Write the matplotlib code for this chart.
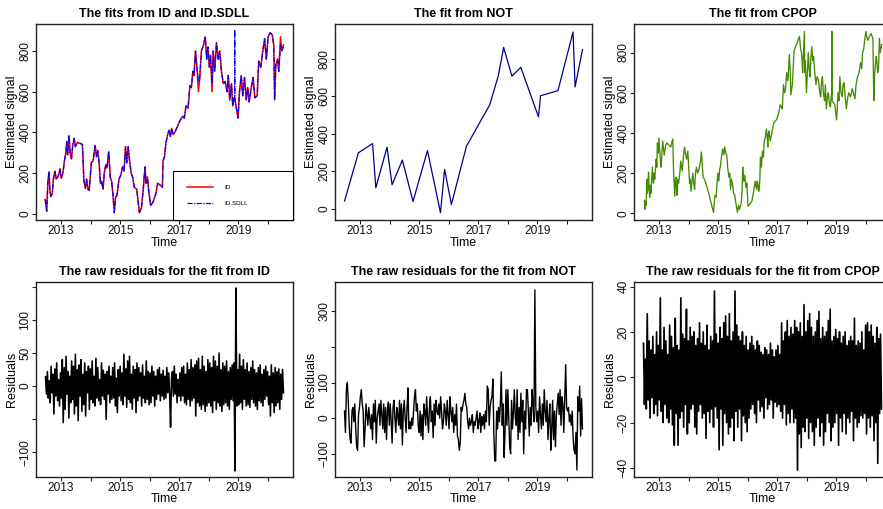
import numpy as np
import matplotlib
matplotlib.use("Agg")
import matplotlib.pyplot as plt

plt.rcParams['font.family'] = ['Liberation Sans', 'DejaVu Sans']

# ---------------- data ----------------
t_start, t_end = 2012.47, 2020.53
year_ticks = [2013, 2014, 2015, 2016, 2017, 2018, 2019, 2020]
year_labels = ['2013', '', '2015', '', '2017', '', '2019', '']

id_t = [2012.46, 2012.51, 2012.55, 2012.59, 2012.62, 2012.65, 2012.70, 2012.74, 2012.79, 2012.83,
        2012.90, 2012.96, 2013.00, 2013.06, 2013.11, 2013.16, 2013.19, 2013.22, 2013.27, 2013.30,
        2013.35, 2013.39, 2013.44, 2013.48, 2013.55, 2013.66, 2013.72, 2013.77, 2013.82, 2013.86,
        2013.91, 2013.95, 2014.02, 2014.08, 2014.15, 2014.20, 2014.24, 2014.28, 2014.33, 2014.37,
        2014.42, 2014.46, 2014.51, 2014.55, 2014.61, 2014.66, 2014.71, 2014.75, 2014.80, 2014.84,
        2014.89, 2014.96, 2015.02, 2015.08, 2015.13, 2015.18, 2015.22, 2015.27, 2015.31, 2015.37,
        2015.42, 2015.48, 2015.56, 2015.65, 2015.72, 2015.78, 2015.84, 2015.87, 2015.92, 2015.96,
        2016.03, 2016.12, 2016.21, 2016.27, 2016.36, 2016.43, 2016.45, 2016.50, 2016.55, 2016.61,
        2016.65, 2016.70, 2016.74, 2016.79, 2016.85, 2016.94, 2017.03, 2017.12, 2017.17, 2017.23,
        2017.30, 2017.36, 2017.41, 2017.46, 2017.50, 2017.55, 2017.60, 2017.65, 2017.69, 2017.75,
        2017.82, 2017.88, 2017.93, 2017.97, 2018.02, 2018.06, 2018.11, 2018.15, 2018.20, 2018.26,
        2018.32, 2018.37, 2018.43, 2018.49, 2018.55, 2018.62, 2018.66, 2018.71, 2018.77, 2018.81,
        2018.85, 2018.88, 2018.91, 2018.99, 2019.04, 2019.10, 2019.15, 2019.21, 2019.27, 2019.32,
        2019.37, 2019.44, 2019.50, 2019.56, 2019.64, 2019.69, 2019.76, 2019.83, 2019.89, 2019.95,
        2020.01, 2020.08, 2020.15, 2020.20, 2020.23, 2020.27, 2020.33, 2020.37, 2020.43, 2020.47,
        2020.53]
id_v = [70, 12, 160, 205, 110, 85, 100, 175, 210, 170,
        185, 220, 175, 200, 260, 300, 355, 290, 385, 300,
        270, 335, 370, 330, 350, 345, 340, 160, 125, 170,
        120, 115, 250, 260, 335, 280, 310, 260, 150, 160,
        120, 200, 240, 225, 305, 180, 160, 100, 5, 80,
        90, 170, 190, 230, 210, 330, 250, 330, 270, 200,
        180, 130, 120, 5, 30, 120, 230, 150, 180, 120,
        40, 60, 100, 150, 140, 130, 260, 280, 350, 390,
        410, 380, 420, 390, 400, 430, 460, 480, 470, 530,
        520, 630, 620, 700, 680, 800, 720, 600, 660, 800,
        830, 870, 760, 820, 720, 780, 600, 800, 700, 840,
        760, 800, 700, 640, 650, 600, 680, 560, 640, 530,
        570, 560, 540, 470, 600, 680, 580, 670, 560, 620,
        550, 620, 670, 570, 580, 750, 720, 800, 860, 760,
        870, 890, 880, 830, 560, 730, 760, 700, 870, 800,
        830]

sdll_t = [2012.46, 2012.51, 2012.55, 2012.59, 2012.62, 2012.65, 2012.70, 2012.74, 2012.79, 2012.83,
          2012.90, 2012.96, 2013.00, 2013.06, 2013.11, 2013.16, 2013.19, 2013.22, 2013.27, 2013.30,
          2013.35, 2013.39, 2013.44, 2013.48, 2013.55, 2013.66, 2013.72, 2013.77, 2013.82, 2013.86,
          2013.91, 2013.95, 2014.02, 2014.08, 2014.15, 2014.20, 2014.24, 2014.28, 2014.33, 2014.37,
          2014.42, 2014.46, 2014.51, 2014.55, 2014.61, 2014.66, 2014.71, 2014.75, 2014.80, 2014.84,
          2014.89, 2014.96, 2015.02, 2015.08, 2015.13, 2015.18, 2015.22, 2015.27, 2015.31, 2015.37,
          2015.42, 2015.48, 2015.56, 2015.65, 2015.72, 2015.78, 2015.84, 2015.87, 2015.92, 2015.96,
          2016.03, 2016.12, 2016.21, 2016.27, 2016.36, 2016.43, 2016.45, 2016.50, 2016.55, 2016.61,
          2016.65, 2016.70, 2016.74, 2016.79, 2016.85, 2016.94, 2017.03, 2017.12, 2017.17, 2017.23,
          2017.30, 2017.36, 2017.41, 2017.46, 2017.50, 2017.55, 2017.60, 2017.65, 2017.69, 2017.75,
          2017.82, 2017.88, 2017.93, 2017.97, 2018.02, 2018.06, 2018.11, 2018.15, 2018.20, 2018.26,
          2018.32, 2018.37, 2018.43, 2018.49, 2018.55, 2018.62, 2018.66, 2018.71, 2018.77, 2018.81,
          2018.85, 2018.875, 2018.88, 2018.885, 2018.91, 2018.99, 2019.04, 2019.10, 2019.15, 2019.21,
          2019.27, 2019.32, 2019.37, 2019.44, 2019.50, 2019.56, 2019.64, 2019.69, 2019.76, 2019.83,
          2019.89, 2019.95, 2020.01, 2020.08, 2020.15, 2020.20, 2020.23, 2020.27, 2020.33, 2020.37,
          2020.43, 2020.47, 2020.53]
sdll_v = [70, 12, 160, 205, 110, 85, 100, 175, 210, 170,
          185, 220, 175, 200, 260, 300, 355, 290, 385, 300,
          270, 335, 370, 330, 350, 345, 340, 160, 125, 170,
          120, 115, 250, 260, 335, 280, 310, 260, 150, 160,
          120, 200, 240, 225, 305, 180, 160, 100, 5, 80,
          90, 170, 190, 230, 210, 330, 250, 330, 270, 200,
          180, 130, 120, 5, 30, 120, 230, 150, 180, 120,
          40, 60, 100, 150, 140, 130, 260, 280, 350, 390,
          410, 380, 420, 390, 400, 430, 460, 480, 470, 530,
          520, 630, 620, 700, 680, 800, 720, 650, 660, 800,
          830, 870, 760, 820, 720, 780, 640, 800, 700, 840,
          760, 800, 700, 640, 650, 600, 680, 560, 640, 530,
          570, 560, 905, 560, 540, 470, 600, 680, 580, 670,
          560, 620, 550, 620, 670, 570, 580, 750, 720, 800,
          860, 760, 870, 890, 880, 830, 560, 730, 760, 700,
          830, 800, 820]

not_t = [2012.47, 2012.94, 2013.42, 2013.53, 2013.91, 2014.08, 2014.43, 2014.79, 2015.28, 2015.72,
         2015.86, 2016.09, 2016.60, 2017.39, 2017.68, 2017.86, 2018.14, 2018.44, 2019.04, 2019.11,
         2019.70, 2020.21, 2020.28, 2020.53]
not_v = [41, 299, 348, 112, 329, 128, 260, 39, 311, -21,
         210, 23, 334, 556, 711, 862, 708, 756, 491, 604,
         631, 944, 651, 850]

cpop_t = [2012.50, 2012.52, 2012.54, 2012.56, 2012.58, 2012.60, 2012.62, 2012.64, 2012.66, 2012.68,
          2012.70, 2012.72, 2012.74, 2012.77, 2012.79, 2012.81, 2012.83, 2012.85, 2012.87, 2012.90,
          2012.92, 2012.94, 2012.97, 2012.99, 2013.01, 2013.03, 2013.06, 2013.08, 2013.12, 2013.15,
          2013.17, 2013.22, 2013.26, 2013.33, 2013.39, 2013.46, 2013.49, 2013.51, 2013.53, 2013.55,
          2013.57, 2013.59, 2013.61, 2013.63, 2013.66, 2013.70, 2013.73, 2013.76, 2013.78, 2013.82,
          2013.86, 2013.89, 2013.93, 2013.97, 2014.00, 2014.03, 2014.05, 2014.08, 2014.11, 2014.14,
          2014.17, 2014.20, 2014.23, 2014.26, 2014.30, 2014.35, 2014.40, 2014.43, 2014.46, 2014.49,
          2014.53, 2014.56, 2014.62, 2014.68, 2014.76, 2014.84, 2014.87, 2014.89, 2014.93, 2014.96,
          2014.99, 2015.02, 2015.05, 2015.07, 2015.11, 2015.15, 2015.19, 2015.22, 2015.26, 2015.29,
          2015.32, 2015.36, 2015.39, 2015.42, 2015.45, 2015.49, 2015.52, 2015.56, 2015.60, 2015.65,
          2015.69, 2015.72, 2015.78, 2015.81, 2015.83, 2015.85, 2015.87, 2015.90, 2015.94, 2015.97,
          2016.01, 2016.14, 2016.20, 2016.25, 2016.28, 2016.30, 2016.32, 2016.34, 2016.37, 2016.39,
          2016.41, 2016.43, 2016.46, 2016.50, 2016.53, 2016.56, 2016.60, 2016.63, 2016.66, 2016.68,
          2016.70, 2016.72, 2016.76, 2016.79, 2016.84, 2016.88, 2016.94, 2016.99, 2017.05, 2017.10,
          2017.14, 2017.17, 2017.21, 2017.25, 2017.28, 2017.32, 2017.35, 2017.37, 2017.41, 2017.44,
          2017.46, 2017.51, 2017.57, 2017.65, 2017.75, 2017.79, 2017.82, 2017.84, 2017.86, 2017.89,
          2017.92, 2017.93, 2017.95, 2017.99, 2018.02, 2018.05, 2018.08, 2018.11, 2018.14, 2018.17,
          2018.20, 2018.23, 2018.27, 2018.31, 2018.35, 2018.40, 2018.44, 2018.47, 2018.50, 2018.53,
          2018.56, 2018.60, 2018.63, 2018.66, 2018.70, 2018.73, 2018.77, 2018.80, 2018.84, 2018.85,
          2018.86, 2018.91, 2018.95, 2019.01, 2019.06, 2019.09, 2019.12, 2019.16, 2019.20, 2019.23,
          2019.26, 2019.30, 2019.34, 2019.38, 2019.42, 2019.48, 2019.54, 2019.58, 2019.63, 2019.67,
          2019.72, 2019.77, 2019.82, 2019.86, 2019.89, 2019.93, 2019.96, 2020.00, 2020.03, 2020.07,
          2020.12, 2020.18, 2020.21, 2020.24, 2020.27, 2020.30, 2020.32, 2020.35, 2020.37, 2020.40,
          2020.43, 2020.46, 2020.49, 2020.54]
cpop_v = [65, 20, 60, 40, 170, 100, 130, 205, 120, 80,
          140, 100, 150, 230, 160, 150, 200, 170, 210, 270,
          230, 350, 300, 375, 330, 290, 230, 270, 360, 320,
          290, 340, 350, 340, 330, 370, 200, 140, 85, 170,
          180, 120, 90, 170, 150, 200, 260, 230, 210, 280,
          330, 300, 270, 310, 230, 150, 170, 110, 160, 200,
          150, 120, 200, 230, 200, 220, 260, 305, 240, 180,
          170, 160, 130, 100, 50, 5, 60, 90, 80, 150,
          200, 160, 220, 230, 280, 320, 290, 330, 300, 290,
          230, 180, 200, 120, 170, 140, 100, 90, 50, 5,
          40, 20, 50, 120, 230, 180, 160, 190, 130, 150,
          35, 60, 110, 160, 130, 120, 160, 150, 110, 120,
          170, 280, 230, 310, 280, 360, 380, 420, 380, 330,
          400, 410, 360, 380, 420, 450, 460, 470, 500, 540,
          530, 520, 640, 600, 620, 700, 660, 680, 790, 700,
          590, 640, 810, 840, 880, 820, 800, 760, 700, 800,
          905, 700, 760, 600, 700, 800, 720, 680, 780, 830,
          760, 780, 700, 640, 680, 660, 600, 580, 650, 680,
          600, 560, 640, 520, 580, 600, 540, 530, 600, 905,
          560, 550, 540, 465, 600, 560, 680, 600, 580, 640,
          650, 580, 520, 570, 600, 580, 620, 600, 570, 640,
          680, 700, 750, 720, 800, 820, 860, 905, 880, 860,
          880, 895, 880, 870, 560, 700, 730, 780, 760, 700,
          720, 870, 800, 840]

res_id = [14, -12, 22, -18, 8, -25, 30, -10, 18, -42, 26, -15, 35, -22, 10, -30,
          20, -18, 40, -55, 28, -35, 45, -12, 22, -48, 15, -25, 38, -20, 30, -42,
          48, -30, 25, -52, 32, -15, 40, -38, 18, -28, 35, -45, 22, -10, 30, -35,
          26, -20, 38, -25, 15, -30, 42, -18, 28, -22, 10, -28, 35, -15, 24, -20,
          18, -50, 22, -12, 30, -25, 15, -20, 28, -18, 35, -30, 12, -40, 25, -15,
          30, -22, 20, -28, 48, -15, 26, -32, 38, -20, 45, -25, 18, -35, 30, -18,
          25, -40, 35, -22, 28, -15, 20, -30, 32, -18, 15, -25, 38, -20, 22, -28,
          20, -25, 30, -15, 22, -30, 15, -20, 25, -12, 28, -22, 18, -15, 24, -20,
          15, -18, 28, -10, 20, -12, -62, 12, 22, -15, 30, -12, 18, -25, 10, -15,
          20, -22, 28, -15, 30, -25, 18, -28, 35, -20, 25, -30, 40, -22, 28, -18,
          32, -45, 38, -25, 42, -30, 25, -35, 45, -28, 30, -38, 22, -30, 40, -25,
          35, -30, 28, -40, 45, -22, 38, -35, 30, -25, 50, -30, 25, -38, 35, -28,
          30, -25, 38, -30, 22, -35, 28, -20, 32, -22, 35, -128, 148, -30, 25, -28,
          48, -25, 30, -35, 40, -20, 25, -30, 35, -28, 22, -32, 28, -20, 38, -25,
          25, -30, 20, -35, 28, -22, 32, -25, 18, -30, 25, -20, 30, -15, 22, -28,
          15, -45, 32, -25, 20, -40, 28, -30, 22, -25, 26, -35, 18, -20, 25, -10]

res_not = [20, -40, 80, 100, 50, -20, -60, -70, 20, 30, -10, 40, -30, -80, -90, 10,
           30, 60, 80, 40, 20, -80, -30, 40, 10, -20, 30, 0, -30, 10, -60, 40,
           -10, 50, -70, 0, 20, 40, -20, 50, 10, -30, 40, -40, 30, -60, 20, 45,
           -20, 40, -10, -70, 30, 50, 0, -40, 30, 10, -20, 50, -30, 40, -75, 20,
           50, 0, -40, 30, 85, -30, -10, -30, 0, -20, 20, 60, 80, 20, 40, -20,
           -40, 20, -50, 10, -60, 40, 20, -20, 60, 0, -40, 30, 60, -10, 20, -55,
           40, -20, 50, 20, 10, 40, 0, 60, 20, -30, -10, 40, 20, -20, 50, 10,
           -30, 60, 20, -10, 30, -40, 10, -20, 40, -50, -60, -90, -70, 30, 20, 40,
           50, 70, 40, 30, -10, -30, 0, -20, -10, 10, -40, -10, -20, 0, 20, -30,
           -10, 15, -40, 5, -20, 10, -30, 20, -10, 90, 80, -20, 30, 50, 60, 110,
           -40, -120, -120, 20, -30, 30, -10, 40, 130, -20, 40, -110, -40, 80, -20, 80,
           0, -80, -100, 50, -30, 20, 80, 0, -20, 80, -60, 30, -40, 70, -10, 50,
           -100, 20, -30, 80, 80, 20, -50, 30, -20, 80, 40, -10, 360, 30, -10, 20,
           -40, 60, 10, -30, 40, -20, 80, 20, -10, 50, -60, 0, 40, -90, -30, 50,
           -60, 20, -80, 10, 40, 70, 10, 80, -20, 60, 40, -40, 50, 150, 30, 20,
           30, -10, 10, -20, 20, -60, -90, -100, -40, -145, 60, 20, 90, -50, 55, -30]

res_cpop = [15, -12, 8, -14, 28, -10, 16, -18, 12, -9, 18, -16, 10, -12, 20, -17,
            14, -10, 35, -15, 12, -20, 22, -12, 16, -18, 10, -20, 23, -14, 18, -21,
            13, -30, 26, -16, 14, -30, 12, -18, 35, -15, 19, -22, 17, -12, 30, -25,
            16, -20, 22, -14, 18, -12, 20, -22, 14, -25, 17, -15, 24, -12, 15, -18,
            20, -16, 14, -27, 23, -15, 12, -20, 18, -14, 16, -22, 38, -13, 19, -18,
            15, -32, 22, -14, 17, -30, 24, -16, 27, -20, 18, -25, 28, -22, 16, -18,
            20, -28, 38, -15, 23, -22, 18, -14, 16, -28, 20, -17, 14, -20, 18, -24,
            12, -18, 15, -14, 18, -12, 14, -16, 12, -20, 16, -10, 14, -15, 11, -13,
            10, -18, 13, -9, 12, -14, 10, -12, 15, -10, 12, -18, 9, -11, 12, -13,
            14, -12, 10, -15, 24, -18, 16, -12, 20, -21, 25, -16, 18, -20, 22, -14,
            19, -20, 25, -18, 22, -41, 20, -25, 24, -31, 18, -22, 32, -24, 20, -18,
            25, -27, 28, -20, 22, -24, 18, -30, 20, -22, 25, -18, 29, -26, 17, -20,
            22, -30, 18, -24, 20, -16, 25, -20, 30, -28, 16, -22, 18, -20, 21, -16,
            17, -30, 20, -18, 15, -24, 18, -16, 20, -25, 14, -18, 16, -20, 18, -15,
            16, -28, 26, -18, 14, -22, 16, -20, 15, -17, 20, -18, 12, -16, 23, -25,
            24, -18, 20, -22, 23, -17, 18, -28, 15, -20, 22, -38, 17, -16, 19, -14]

# ---------------- layout ----------------
W, H = 883, 509
fig = plt.figure(figsize=(W / 100, H / 100), dpi=100)
fig.patch.set_facecolor('white')


def make_axes(left, top, right, bottom):
    return fig.add_axes([left / W, 1 - bottom / H, (right - left) / W, (bottom - top) / H])


lefts = [36, 335, 634]
width = 257
rows = [(24, 220), (282, 477)]

span = t_end - t_start
xlim = (t_start - 0.04 * span, t_end + 0.04 * span)

TICK_FS = 8.6
LAB_FS = 9.0
TITLE_FS = 9.0


def style(ax, title, ylabel, yticks, ylabels, ylim):
    ax.set_xlim(*xlim)
    ax.set_ylim(*ylim)
    ax.set_xticks(year_ticks)
    ax.set_xticklabels(year_labels)
    ax.set_yticks(yticks)
    ax.set_yticklabels(ylabels, rotation=90, va='center')
    for s in ax.spines.values():
        s.set_linewidth(1.0)
        s.set_color('#222222')
    ax.tick_params(axis='both', direction='out', length=3.0, width=0.8, color='#222222',
                   labelsize=TICK_FS, labelcolor='#111111')
    ax.tick_params(axis='x', pad=0.5)
    ax.tick_params(axis='y', pad=0.4)
    ax.set_title(title, fontsize=TITLE_FS, fontweight='bold', pad=5)
    ax.set_xlabel('Time', fontsize=LAB_FS)
    ax.set_ylabel(ylabel, fontsize=LAB_FS)
    ax.xaxis.set_label_coords(0.5, -0.115)
    ax.xaxis.label.set_va('center')
    ax.yaxis.set_label_coords(-0.093, 0.5)
    ax.yaxis.label.set_va('center')


sig_ticks = [0, 200, 400, 600, 800]
sig_labels = ['0', '200', '400', '600', '800']

# panel 1: ID and ID.SDLL
ax1 = make_axes(lefts[0], rows[0][0], lefts[0] + width, rows[0][1])
ax1.plot(id_t, id_v, color='#ff0000', lw=1.1, label='ID')
ax1.plot(sdll_t, sdll_v, color='#0000ff', lw=0.9, linestyle=(0, (4, 1.2, 1, 1.2)), label='ID.SDLL')
style(ax1, 'The fits from ID and ID.SDLL', 'Estimated signal', sig_ticks, sig_labels, (-31, 933))
leg = ax1.legend(loc='lower left', bbox_to_anchor=(0.533, 0.0, 0.467, 0.26), mode='expand',
                 borderaxespad=0, fontsize=4.5, handlelength=4.2, handletextpad=1.9,
                 borderpad=2.2, labelspacing=1.7, fancybox=False, framealpha=1,
                 edgecolor='black')
leg.get_frame().set_linewidth(0.8)

# panel 2: NOT
ax2 = make_axes(lefts[1], rows[0][0], lefts[1] + width, rows[0][1])
ax2.plot(not_t, not_v, color='#00008b', lw=0.9)
style(ax2, 'The fit from NOT', 'Estimated signal', sig_ticks, sig_labels, (-60, 987))

# panel 3: CPOP
ax3 = make_axes(lefts[2], rows[0][0], lefts[2] + width, rows[0][1])
ax3.plot(cpop_t, cpop_v, color='#458b00', lw=0.95)
style(ax3, 'The fit from CPOP', 'Estimated signal', sig_ticks, sig_labels, (-33, 942))

# residual panels
t_id = np.linspace(t_start, t_end, len(res_id))
t_not = np.linspace(t_start, t_end, len(res_not))
t_cp = np.linspace(t_start, t_end, len(res_cpop))

ax4 = make_axes(lefts[0], rows[1][0], lefts[0] + width, rows[1][1])
ax4.plot(t_id, res_id, color='black', lw=1.15)
style(ax4, 'The raw residuals for the fit from ID', 'Residuals',
      [-100, -50, 0, 50, 100, 150], ['\u2212100', '', '0', '50', '100', ''], (-137, 157))

ax5 = make_axes(lefts[1], rows[1][0], lefts[1] + width, rows[1][1])
ax5.plot(t_not, res_not, color='black', lw=1.0)
style(ax5, 'The raw residuals for the fit from NOT', 'Residuals',
      [-100, 0, 100, 200, 300], ['\u2212100', '0', '100', '', '300'], (-165, 382))

ax6 = make_axes(lefts[2], rows[1][0], lefts[2] + width, rows[1][1])
ax6.plot(t_cp, res_cpop, color='black', lw=1.2)
style(ax6, 'The raw residuals for the fit from CPOP', 'Residuals',
      [-40, -20, 0, 20, 40], ['\u221240', '\u221220', '0', '20', '40'], (-44, 42))

fig.savefig('out.png', dpi=100)
